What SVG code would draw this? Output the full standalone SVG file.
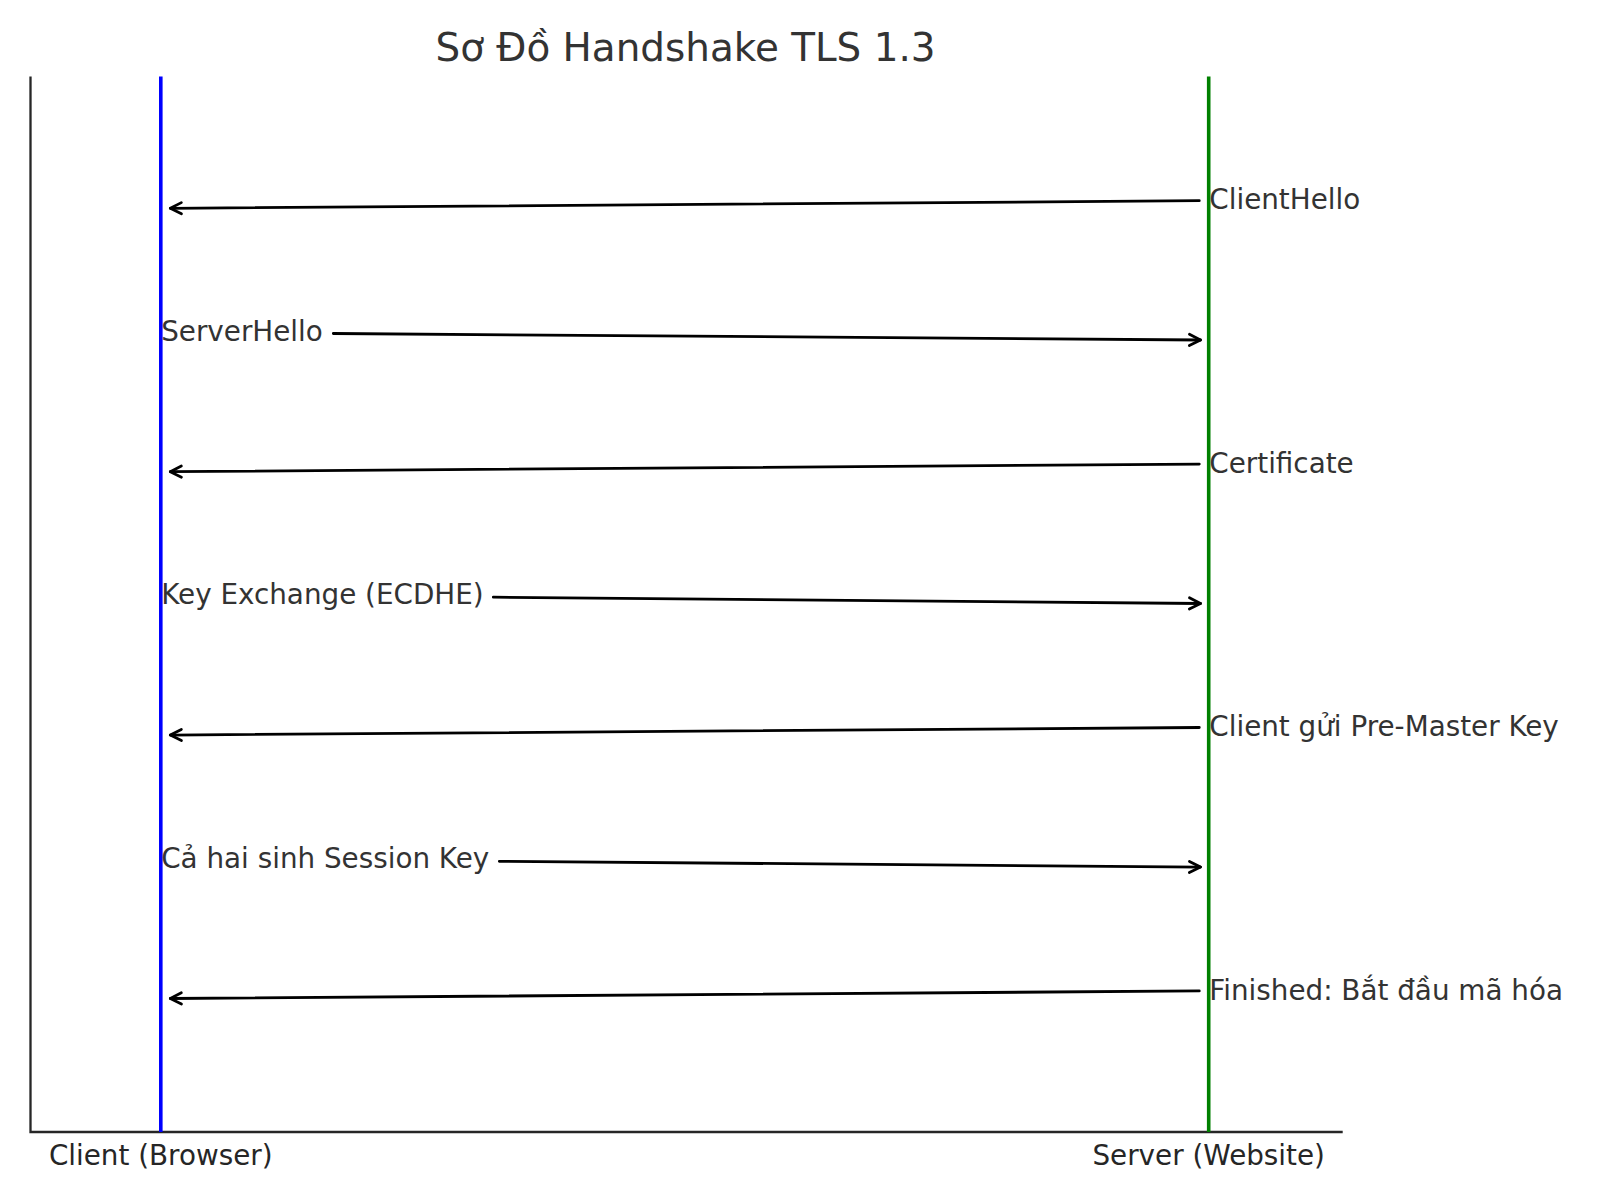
<svg xmlns="http://www.w3.org/2000/svg" width="1600" height="1200" viewBox="0 0 1600 1200">
<style>
text{font-family:"DejaVu Sans","Liberation Sans",sans-serif}
.title{font-size:38.9px;fill:#333333}
.lbl{font-size:27.8px;fill:#333333}
.tick{font-size:27.8px;fill:#262626}
.spine{stroke:#262626;stroke-width:2.3;fill:none}
.msg{stroke:#000;stroke-width:2.78;fill:none;stroke-linecap:round}
</style>
<defs>
<marker id="ah" viewBox="-14 -8 16 16" markerWidth="16" markerHeight="16" refX="0" refY="0" orient="auto" markerUnits="userSpaceOnUse">
<path d="M-11.1,-5.6 L0,0 L-11.1,5.6" fill="none" stroke="#000" stroke-width="2.78" stroke-linejoin="round" stroke-linecap="round"/>
</marker>
</defs>
<rect width="1600" height="1200" fill="#ffffff"/>
<g id="axes">
<path class="spine" d="M30.5,76.5 L30.5,1132 L1342.7,1132"/>
<text class="tick" x="160.7" y="1165.3" text-anchor="middle">Client (Browser)</text>
<text class="tick" x="1208.7" y="1165.3" text-anchor="middle">Server (Website)</text>
</g>
<text class="title" x="685.5" y="60.5" text-anchor="middle">Sơ Đồ Handshake TLS 1.3</text>
<g id="client">
<line x1="160.8" y1="76.5" x2="160.8" y2="1132" stroke="#0000ff" stroke-width="3.6"/>
</g>
<g id="server">
<line x1="1208.7" y1="76.5" x2="1208.7" y2="1132" stroke="#008000" stroke-width="3.6"/>
</g>
<g id="connectors">
<path class="msg" marker-end="url(#ah)" d="M1199.3,200.7 L170.3,208.3"/>
<path class="msg" marker-end="url(#ah)" d="M333.3,333.5 L1200.5,340"/>
<path class="msg" marker-end="url(#ah)" d="M1199.3,464.1 L170.3,471.7"/>
<path class="msg" marker-end="url(#ah)" d="M493.3,597.2 L1200.5,603.5"/>
<path class="msg" marker-end="url(#ah)" d="M1199.3,727.5 L170.3,735.1"/>
<path class="msg" marker-end="url(#ah)" d="M499.3,861.3 L1200.5,867.1"/>
<path class="msg" marker-end="url(#ah)" d="M1199.3,990.9 L170.3,998.5"/>
</g>
<g id="labels">
<text class="lbl" x="1209.3" y="209.3">ClientHello</text>
<text class="lbl" x="161.2" y="340.7">ServerHello</text>
<text class="lbl" x="1209.3" y="472.7">Certificate</text>
<text class="lbl" x="161.2" y="603.8">Key Exchange (ECDHE)</text>
<text class="lbl" x="1209.3" y="736.1">Client gửi Pre-Master Key</text>
<text class="lbl" x="161.2" y="868.3">Cả hai sinh Session Key</text>
<text class="lbl" x="1209.3" y="999.5">Finished: Bắt đầu mã hóa</text>
</g>
</svg>
